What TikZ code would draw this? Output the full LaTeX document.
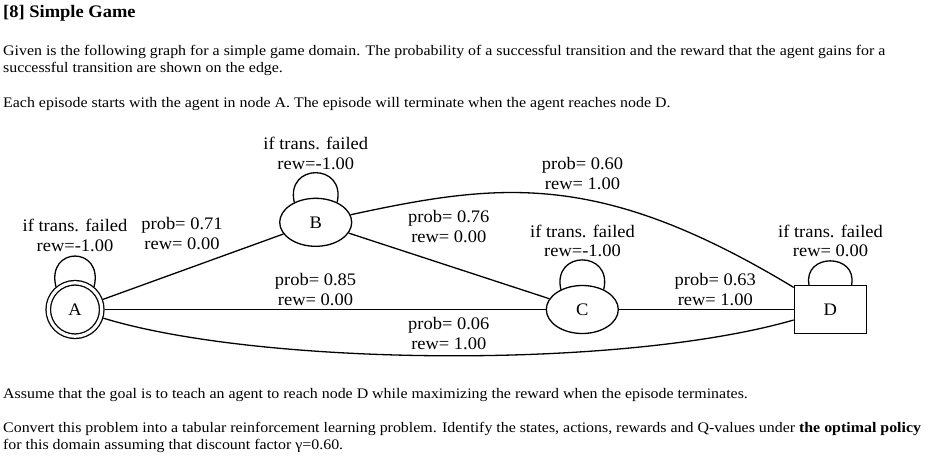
\documentclass[tikz,border=0pt]{standalone}
\usepackage{fontspec}
\setmainfont{Liberation Serif}
\newfontfamily\bodyf{Liberation Serif}[FakeStretch=1.09]
\newfontfamily\graphf{Liberation Serif}[FakeStretch=1.05]
\usetikzlibrary{shapes.geometric}
\tikzset{
  edgeline/.style={line width=1.3pt},
  txt/.style={inner sep=0pt, anchor=base west, font=\bodyf\fontsize{14.6}{17.5}\selectfont},
  titletxt/.style={inner sep=0pt, anchor=base west, font=\graphf\bfseries\fontsize{17.6}{20}\selectfont},
  glabel/.style={inner sep=0pt, align=center, font=\graphf\fontsize{17.6}{19.7}\selectfont},
  ellnode/.style={ellipse, draw, line width=1.3pt, minimum width=72pt, minimum height=48pt, inner sep=0pt, font=\graphf\fontsize{17.6}{19.7}\selectfont},
  boxnode/.style={rectangle, draw, line width=1.3pt, minimum width=72pt, minimum height=48pt, inner sep=0pt, font=\graphf\fontsize{17.6}{19.7}\selectfont},
  dcircnode/.style={circle, draw, line width=1.3pt, double, double distance=3.2pt, minimum size=53.5pt, inner sep=0pt, outer sep=2.9pt, font=\graphf\fontsize{17.6}{19.7}\selectfont}
}
\begin{document}
\begin{tikzpicture}[x=1pt,y=-1pt]
\useasboundingbox (0,0) rectangle (931,458);
\fill[white] (0,0) rectangle (931,458);

% text
\node[titletxt] (title) at (3,17) {[8] Simple Game};
\node[txt] (p1a) at (3,55) {Given is the following graph for a simple game domain. The probability of a successful transition and the reward that the agent gains for a};
\node[txt] (p1b) at (3,72.7) {successful transition are shown on the edge.};
\node[txt] (p2) at (3,107.3) {Each episode starts with the agent in node A. The episode will terminate when the agent reaches node D.};
\node[txt] (p3) at (3,398.3) {Assume that the goal is to teach an agent to reach node D while maximizing the reward when the episode terminates.};
\node[txt] (p4a) at (3,432.3) {Convert this problem into a tabular reinforcement learning problem. Identify the states, actions, rewards and Q-values under \textbf{the optimal policy}};
\node[txt] (p4b) at (3,449) {for this domain assuming that discount factor γ=0.60.};

% nodes
\node[dcircnode] (A) at (75,309.5) {A};
\node[ellnode] (B) at (315.7,222.3) {B};
\node[ellnode] (C) at (582.3,309.5) {C};
\node[boxnode] (D) at (830.3,309.5) {D};

% edges
\draw[edgeline] (A) -- (B);
\draw[edgeline] (A) -- (C);
\draw[edgeline] (B) -- (C);
\draw[edgeline] (C) -- (D);
\draw[edgeline] (A) .. controls (260,366) and (620,370) .. (D);
\draw[edgeline] (B) .. controls (501,182.2) and (600,170.3) .. (D);

% loops
\draw[edgeline] (A.130) .. controls +(-10,-41) and +(10,-41) .. (A.50);
\draw[edgeline] (B.137) .. controls +(-9,-39.5) and +(9,-39.5) .. (B.43);
\draw[edgeline] (C.137) .. controls +(-9,-39.5) and +(9,-39.5) .. (C.43);
\draw[edgeline] ([xshift=-21.3pt]D.north) .. controls +(-6,-32) and +(6,-32) .. ([xshift=21.3pt]D.north);

% labels
\node[glabel] (lA) at (75,235.5) {if trans. failed\\rew=-1.00};
\node[glabel] (l71) at (182,233.7) {prob= 0.71\\rew= 0.00};
\node[glabel] (lB) at (315.8,153.3) {if trans. failed\\rew=-1.00};
\node[glabel] (l85) at (315.5,289.8) {prob= 0.85\\rew= 0.00};
\node[glabel] (l76) at (448.8,226.7) {prob= 0.76\\rew= 0.00};
\node[glabel] (l06) at (448.8,333.7) {prob= 0.06\\rew= 1.00};
\node[glabel] (l60) at (582.5,173.3) {prob= 0.60\\rew= 1.00};
\node[glabel] (lC) at (582.5,240.8) {if trans. failed\\rew=-1.00};
\node[glabel] (l63) at (715.3,289.5) {prob= 0.63\\rew= 1.00};
\node[glabel] (lD) at (830.5,240.8) {if trans. failed\\rew= 0.00};
\end{tikzpicture}
\end{document}
